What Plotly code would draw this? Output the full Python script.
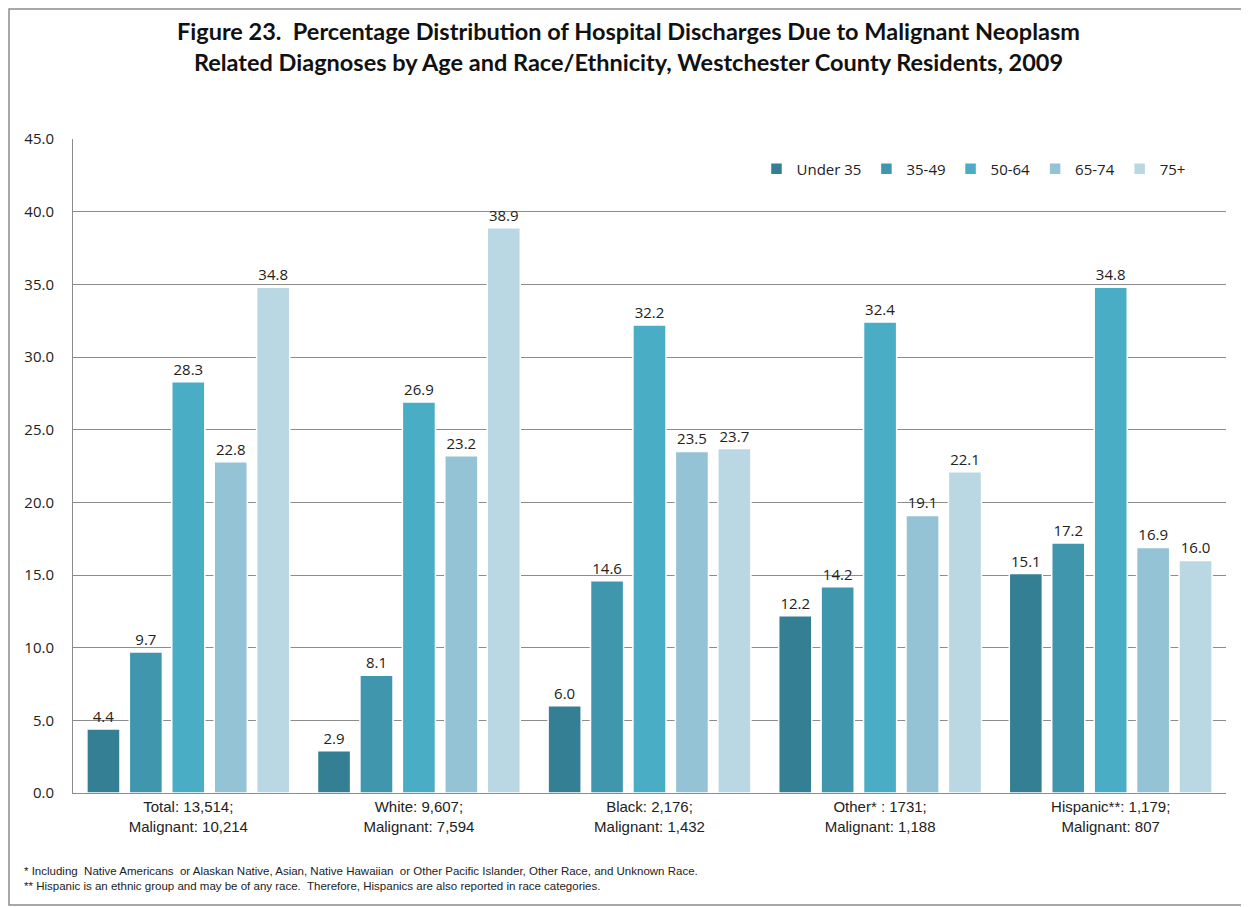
import plotly.graph_objects as go

categories = [
    "Total: 13,514;<br>Malignant: 10,214",
    "White: 9,607;<br>Malignant: 7,594",
    "Black: 2,176;<br>Malignant: 1,432",
    "Other* : 1731;<br>Malignant: 1,188",
    "Hispanic**: 1,179;<br>Malignant: 807",
]
age_groups = ["Under 35", "35-49", "50-64", "65-74", "75+"]
under_35 = [4.4, 2.9, 6.0, 12.2, 15.1]
age_35_49 = [9.7, 8.1, 14.6, 14.2, 17.2]
age_50_64 = [28.3, 26.9, 32.2, 32.4, 34.8]
age_65_74 = [22.8, 23.2, 23.5, 19.1, 16.9]
age_75_plus = [34.8, 38.9, 23.7, 22.1, 16.0]
series = [under_35, age_35_49, age_50_64, age_65_74, age_75_plus]
colors = ["#357f94", "#4096ad", "#4aadc6", "#93c3d4", "#bad8e3"]
y_ticks = [0, 5, 10, 15, 20, 25, 30, 35, 40, 45]

title = (
    "<b>Figure 23.  Percentage Distribution of Hospital Discharges Due to Malignant Neoplasm<br>"
    "Related Diagnoses by Age and Race/Ethnicity, Westchester County Residents, 2009</b>"
)
footnotes = [
    "* Including  Native Americans  or Alaskan Native, Asian, Native Hawaiian  or Other Pacific Islander, Other Race, and Unknown Race.",
    "** Hispanic is an ethnic group and may be of any race.  Therefore, Hispanics are also reported in race categories.",
]

TEXT = "#222222"
GRID = "#8c8c8c"

fig = go.Figure()
for name, vals, col in zip(age_groups, series, colors):
    fig.add_trace(
        go.Bar(
            x=categories,
            y=vals,
            name=name,
            marker=dict(color=col, line=dict(color="white", width=1.5)),
            text=[f"{v:.1f}" for v in vals],
            textposition="outside",
            cliponaxis=False,
            textfont=dict(size=15, color=TEXT, family="Open Sans, sans-serif"),
        )
    )

# page body adds 8px offset, so the figure is sized/margined to compensate
fig.update_layout(
    width=1241,
    height=899,
    barmode="group",
    bargap=0.08,
    bargroupgap=0.22,
    plot_bgcolor="white",
    paper_bgcolor="white",
    margin=dict(l=65, r=23, t=131, b=114),
    title=dict(
        text=title,
        x=0.5,
        xanchor="center",
        y=0.9644,
        yanchor="middle",
        font=dict(size=23.5, color="#111111", family="Lato, sans-serif"),
    ),
    legend=dict(
        orientation="h",
        x=0.781,
        xanchor="center",
        y=0.954,
        yanchor="middle",
        font=dict(size=15, color=TEXT, family="Open Sans, sans-serif"),
        traceorder="normal",
        itemwidth=30,
    ),
    yaxis=dict(
        range=[0, 45],
        tickvals=y_ticks,
        tickformat=".1f",
        showgrid=True,
        gridcolor=GRID,
        gridwidth=1,
        showline=True,
        linecolor=GRID,
        ticks="",
        ticklabelstandoff=15,
        tickfont=dict(size=15, color=TEXT, family="Open Sans, sans-serif"),
        zeroline=False,
    ),
    xaxis=dict(
        showline=True,
        linecolor=GRID,
        linewidth=1,
        tickfont=dict(size=15, color=TEXT, family="Liberation Sans Narrow, Arial Narrow, Liberation Sans, sans-serif"),
    ),
    shapes=[
        dict(
            type="rect",
            xref="paper",
            yref="paper",
            x0=-0.0555,
            x1=1.0182,
            y0=-0.1713,
            y1=1.1988,
            line=dict(color=GRID, width=1.5),
            fillcolor="rgba(0,0,0,0)",
            layer="below",
        )
    ],
)

for i, note in enumerate(footnotes):
    fig.add_annotation(
        text=note,
        xref="paper",
        yref="paper",
        x=-0.0442,
        xanchor="left",
        y=-0.119 - i * 0.023,
        yanchor="middle",
        showarrow=False,
        font=dict(size=11.5, color=TEXT, family="Liberation Sans Narrow, Arial Narrow, Liberation Sans, sans-serif"),
    )

fig.write_html("out.html")
